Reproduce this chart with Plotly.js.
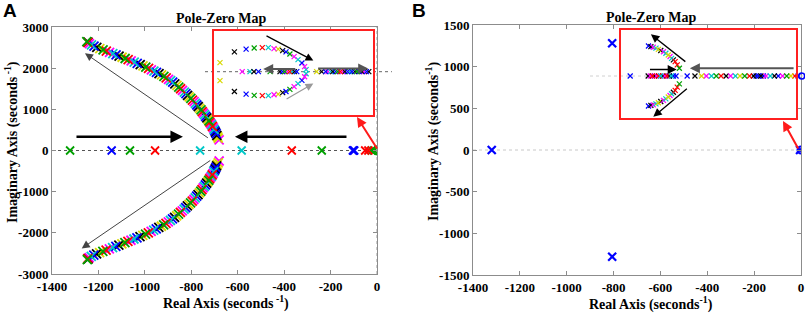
<!DOCTYPE html>
<html><head><meta charset="utf-8">
<script src="https://cdn.plot.ly/plotly-3.0.1.min.js"></script>
<style>html,body{margin:0;padding:0;background:#fff}</style>
</head><body><div id="chart" style="width:809px;height:315px"></div>
<script>
// ================= DATA =================
const xTickVals = [-1400,-1200,-1000,-800,-600,-400,-200,0];
const xTickText = ['-1400','-1200','-1000','-800','-600','-400','-200','0'];
const yTickValsA = [-3000,-2000,-1000,0,1000,2000,3000];
const yTickTextA = ['-3000','-2000','-1000','0','1000','2000','3000'];
const yTickValsB = [-1500,-1000,-500,0,500,1000,1500];
const yTickTextB = ['-1500','-1000','-500','0','500','1000','1500'];

// Panel A – upper complex branch of the root locus (series = gain case)
const aUpRe  = [-680,-684,-687,-690,-693,-696,-699,-702,-705,-709,-712,-716,-720,-724,-728,-733,-738,-743,-748,-753,-758,-764,-770,-776,-782,-788,-795,-802,-809,-816,-823,-830,-838,-846,-854,-862,-871,-880,-889,-898,-908,-918,-928,-939,-950,-961,-972,-984,-996,-1008,-1020,-1033,-1046,-1059,-1072,-1085,-1098,-1111,-1124,-1138,-1152,-1166,-1180,-1194,-1207,-1219,-1230,-1239,-1246,-1250,-1245];
const aUpIm  = [260,300,340,370,410,445,480,515,550,585,620,655,690,720,755,790,830,870,910,945,985,1025,1065,1105,1145,1185,1225,1265,1305,1340,1380,1420,1460,1500,1540,1580,1620,1660,1695,1730,1765,1800,1835,1865,1900,1930,1960,1995,2025,2055,2085,2115,2145,2175,2205,2235,2265,2295,2325,2355,2385,2415,2445,2475,2505,2535,2565,2595,2625,2645,2630];
const aUpSer = ['m','y','y','k','b','k','b','c','m','r','c','m','r','g','y','k','b','c','m','r','g','y','k','b','c','m','r','g','y','k','b','c','m','r','g','y','k','b','c','m','r','g','y','k','b','c','m','r','g','y','k','b','c','m','r','g','y','k','b','c','m','r','g','y','k','b','c','m','r','g','k'];
// Panel A – lower complex branch
const aLoRe  = [-680,-684,-688,-691,-694,-697,-700,-703,-706,-710,-713,-717,-721,-725,-729,-734,-739,-744,-749,-754,-759,-765,-771,-777,-783,-789,-796,-803,-810,-817,-824,-831,-839,-847,-855,-863,-872,-881,-890,-899,-909,-919,-929,-940,-951,-962,-973,-985,-997,-1009,-1021,-1034,-1047,-1060,-1073,-1086,-1099,-1112,-1125,-1139,-1153,-1167,-1181,-1195,-1208,-1220,-1231,-1240,-1246,-1248,-1244];
const aLoIm  = [-255,-300,-345,-375,-410,-445,-480,-515,-555,-590,-625,-655,-690,-725,-760,-795,-835,-870,-910,-950,-990,-1030,-1070,-1110,-1150,-1190,-1230,-1270,-1310,-1345,-1385,-1425,-1465,-1505,-1545,-1585,-1625,-1660,-1700,-1735,-1770,-1805,-1840,-1870,-1905,-1935,-1965,-2000,-2030,-2060,-2090,-2120,-2150,-2180,-2210,-2240,-2270,-2300,-2330,-2360,-2390,-2420,-2450,-2480,-2510,-2540,-2570,-2600,-2625,-2650,-2635];
const aLoSer = ['m','y','y','k','b','k','b','c','m','r','c','m','r','g','y','k','b','c','m','r','g','y','k','b','c','m','r','g','y','k','b','c','m','r','g','y','k','b','c','m','r','g','y','k','b','c','m','r','g','y','k','b','c','m','r','g','y','k','b','c','m','r','g','y','k','b','c','m','r','g','k'];
// Panel A – poles on the real axis
const aRealRe  = [-1322,-1143,-1064,-956,-762,-583,-367,-238,-104,-101,-98,-51,-37,-23,-12];
const aRealSer = ['g','b','g','r','c','c','r','g','b','b','b','r','r','g','g'];
// Panel A – zero
const aZeroRe = [0], aZeroIm = [0];

// Inset A (zoom near the origin, local units)
const iaUpRe  = [-51,-46.2,-42.3,-39.6,-36.9,-34.9,-33,-31.6,-30.1,-29,-27.7,-26.3,-25,-23.7,-22.8,-22.3];
const iaUpIm  = [3,6.6,7.5,7.9,8,8,7.7,7.5,7,6.6,5.9,5,4,2.9,1.7,0.7];
const iaUpSer = ['y','k','b','g','r','c','m','y','k','b','g','m','c','b','m','c'];
const iaLoRe  = [-51,-46.2,-42.3,-39.6,-36.9,-34.9,-33,-31.6,-30.1,-29,-27.7,-26.3,-25,-23.7,-22.8,-22.3];
const iaLoIm  = [-3,-6.6,-7.5,-7.9,-8,-8,-7.7,-7.5,-7,-6.6,-5.9,-5,-4,-2.9,-1.7,-0.7];
const iaLoSer = ['y','k','b','g','r','c','m','y','k','b','g','m','c','b','m','c'];
const iaRealRe  = [-43.6,-41,-39.7,-38.2,-34.3,-31,-30.2,-29.4,-28.6,-27.8,-27,-26.2,-25.4,-18.8,-17.1,-15.8,-15,-14.1,-13.4,-12.5,-11.8,-10.9,-10.2,-9.4,-8.5,-7.8,-7,-6.1,-5.4,-4.6,-3.7,-3,-2.2,-1.4];
const iaRealSer = ['m','c','k','b','g','k','b','g','m','r','c','k','b','y','k','b','m','c','k','b','g','r','m','k','b','c','b','k','g','b','k','m','b','k'];

// Panel B – poles and zero
const bPoleRe = [-1320,-806,-806,-4];
const bPoleIm = [0,1280,-1280,0];
const bZeroRe = [0], bZeroIm = [0];

// Inset B (zoom near the origin, local units)
const ibUpRe  = [-51.1,-50.3,-49.5,-48.6,-47.8,-47,-46.1,-45.3,-44.5,-43.9,-43.4,-42.8,-42.2,-41.5,-40.8];
const ibUpIm  = [10,9.8,9.6,9.3,8.9,8.5,8.1,7.6,7,6.5,5.9,5.4,4.8,3.7,2.6];
const ibUpSer = ['b','k','m','c','y','k','m','c','y','m','c','k','r','r','g'];
const ibLoRe  = [-51.1,-50.3,-49.5,-48.6,-47.8,-47,-46.1,-45.3,-44.5,-43.9,-43.4,-42.8,-42.2,-41.5,-40.8];
const ibLoIm  = [-10,-9.8,-9.6,-9.3,-8.9,-8.5,-8.1,-7.6,-7,-6.5,-5.9,-5.4,-4.8,-3.7,-2.6];
const ibLoSer = ['b','k','m','c','y','k','m','c','y','m','c','k','r','r','g'];
const ibRealRe  = [-57.2,-51.2,-50.5,-49.8,-49.1,-48.4,-47.7,-47,-46.3,-45.6,-44.9,-44.2,-43.5,-42.8,-41.9,-38.2,-35.6,-33.4,-31.8,-30.1,-28.5,-26.9,-25.2,-23.7,-22.1,-20.6,-19,-17.4,-16.1,-15.2,-14.4,-13.6,-12.8,-11.9,-10.5,-9.1,-7.8,-6.4,-5,-3.6,-2.3,-1.2];
const ibRealSer = ['b','k','m','r','k','m','r','c','k','m','r','k','c','b','b','b','k','y','m','c','g','r','k','m','c','y','g','r','k','b','b','k','b','m','c','k','b','m','g','y','r','b'];
const ibZeroRe = [0], ibZeroIm = [0];

// ================= STYLE / BUILD =================
const C = {g:'#00a000', b:'#0000ff', r:'#ff0000', c:'#00c8c8', m:'#ff00ff', y:'#d8d800', k:'#000000'};
const W = 809, H = 315;
const px = v => v / W;
const py = v => 1 - v / H;
const traces = [];

function line(xs, ys, xa, ya, color, dash, width) {
  traces.push({type:'scatter', mode:'lines', x:xs, y:ys, xaxis:xa, yaxis:ya,
    line:{color:color, dash:dash, width:width}, hoverinfo:'skip', showlegend:false});
}
function series(re, im, ser, xa, ya, size, lw) {
  const keys = [...new Set(ser)];
  keys.forEach(k => {
    const idx = ser.map((s,i) => s === k ? i : -1).filter(i => i >= 0);
    traces.push({type:'scatter', mode:'markers', x: idx.map(i => re[i]), y: idx.map(i => im[i]),
      xaxis:xa, yaxis:ya, hoverinfo:'skip', showlegend:false,
      marker:{symbol:'x-thin-open', size:size, color:C[k], line:{color:C[k], width:lw}}});
  });
}
function zero(re, im, xa, ya, color, size, lw) {
  traces.push({type:'scatter', mode:'markers', x:re, y:im, xaxis:xa, yaxis:ya, hoverinfo:'skip', showlegend:false,
    marker:{symbol:'circle-open', size:size, color:color, line:{color:color, width:lw}}});
}

// Panel A
line([-1400, 0], [0, 0], 'x', 'y', '#555', 'dot', 1);
line([0, 0], [-3000, 3000], 'x', 'y', '#999', 'dot', 1);
series(aUpRe, aUpIm, aUpSer, 'x', 'y', 9, 1.8);
series(aLoRe, aLoIm, aLoSer, 'x', 'y', 9, 1.8);
series(aRealRe, aRealRe.map(() => 0), aRealSer, 'x', 'y', 8, 1.8);
zero(aZeroRe, aZeroIm, 'x', 'y', C.g, 8, 2);

// Inset A
line([-56, 6.3], [0, 0], 'x3', 'y3', '#666', 'dot', 1);
series(iaUpRe, iaUpIm, iaUpSer, 'x3', 'y3', 5, 1.2);
series(iaLoRe, iaLoIm, iaLoSer, 'x3', 'y3', 5, 1.2);
series(iaRealRe, iaRealRe.map(() => 0), iaRealSer, 'x3', 'y3', 5, 1.2);

// Panel B
line([-1400, 0], [0, 0], 'x2', 'y2', '#c8c8c8', 'dot', 1);
series(bPoleRe, bPoleIm, bPoleRe.map(() => 'b'), 'x2', 'y2', 8, 2.2);
zero(bZeroRe, bZeroIm, 'x2', 'y2', C.b, 7, 2);

// Inset B
line([-70.6, 1.1], [0, 0], 'x4', 'y4', '#d0d0d0', 'dot', 1);
series(ibUpRe, ibUpIm, ibUpSer, 'x4', 'y4', 5, 1.2);
series(ibLoRe, ibLoIm, ibLoSer, 'x4', 'y4', 5, 1.2);
series(ibRealRe, ibRealRe.map(() => 0), ibRealSer, 'x4', 'y4', 5, 1.2);
zero(ibZeroRe, ibZeroIm, 'x4', 'y4', C.b, 6, 1.6);

const tickFont = {family:'Liberation Serif', size:13, color:'#000', weight:'bold'};
const axBase = {showline:true, mirror:'ticks', linecolor:'#8c8c8c', linewidth:1, ticks:'inside', ticklen:4,
  tickcolor:'#8c8c8c', tickfont:tickFont, showgrid:false, zeroline:false, tickmode:'array', fixedrange:true};
const hidden = {visible:false, showgrid:false, zeroline:false, fixedrange:true};

const titleFont = {family:'Liberation Serif', size:14, color:'#000'};
const ann = [];
function text(t, x, y, font, angle) {
  ann.push({text:t, x:px(x), y:py(y), xref:'paper', yref:'paper', showarrow:false, font:font,
    textangle:angle || 0, xanchor:'center', yanchor:'middle'});
}
text('<b>Pole-Zero Map</b>', 221, 18, titleFont);
text('<b>Pole-Zero Map</b>', 651, 17, titleFont);
text('<b>Real Axis (seconds<sup> -1</sup>)</b>', 226, 302, {family:'Liberation Serif', size:14, color:'#000'});
text('<b>Real Axis (seconds<sup>-1</sup>)</b>', 651, 303, {family:'Liberation Serif', size:14, color:'#000'});
text('<b>Imaginary Axis (seconds<sup> -1</sup>)</b>', 12, 142, {family:'Liberation Serif', size:14, color:'#000'}, -90);
text('<b>Imaginary Axis (seconds<sup>-1</sup>)</b>', 433, 142, {family:'Liberation Serif', size:14, color:'#000'}, -90);
text('<b>A</b>', 10, 11, {family:'Liberation Sans', size:19, color:'#000'});
text('<b>B</b>', 419, 10, {family:'Liberation Sans', size:19, color:'#000'});

function arrow(xa, ya, x0, y0, x1, y1, color, width, size) {
  ann.push({x:x1, y:y1, ax:x0, ay:y0, xref:xa, yref:ya, axref:xa, ayref:ya, text:'', showarrow:true,
    arrowhead:2, arrowsize:size, arrowwidth:width, arrowcolor:color, standoff:0, startstandoff:0});
}
// Panel A arrows
arrow('x', 'y', -1301, 331, -836, 331, '#000', 2.5, 1);
arrow('x', 'y', -125, 331, -612, 331, '#000', 2.5, 1);
arrow('x', 'y', -722, 283, -1258, 2364, '#444', 1, 1.6);
arrow('x', 'y', -712, -218, -1272, -2379, '#444', 1, 1.6);
// Inset A arrows
arrow('x3', 'y3', -36, 12.2, -19.9, 3.7, '#000', 1.2, 1.3);
arrow('x3', 'y3', -29.3, -9.4, -19.9, -3.9, '#999', 1.2, 1.3);
arrow('x3', 'y3', -25.4, 0.9, -36.6, 0.9, '#555', 2, 1);
arrow('x3', 'y3', -18.8, 1.1, -1.6, 1.1, '#555', 2, 1);
// Inset B arrows
arrow('x4', 'y4', -38.3, 4.4, -50.3, 13.9, '#000', 1.3, 1.3);
arrow('x4', 'y4', -37.8, -3.8, -49.5, -13.6, '#000', 1.3, 1.3);
arrow('x4', 'y4', -51.1, 2.2, -41.7, 2.2, '#000', 1.5, 1.2);
arrow('x4', 'y4', -2.2, 2.6, -37.3, 2.6, '#555', 2, 1);
// Red pointer arrows (paper coords, pixel offsets)
ann.push({x:px(357), y:py(117), xref:'paper', yref:'paper', ax:21, ay:33, text:'', showarrow:true,
  arrowhead:2, arrowsize:1, arrowwidth:2, arrowcolor:'#ff1a1a', standoff:0});
ann.push({x:px(783), y:py(121), xref:'paper', yref:'paper', ax:16, ay:29, text:'', showarrow:true,
  arrowhead:2, arrowsize:1, arrowwidth:2, arrowcolor:'#ff1a1a', standoff:0});

const layout = {
  width:W, height:H, margin:{l:0, r:0, t:0, b:0}, paper_bgcolor:'#fff', plot_bgcolor:'rgba(0,0,0,0)',
  showlegend:false, hovermode:false,
  xaxis: Object.assign({}, axBase, {domain:[px(52), px(377)], range:[-1400, 0], anchor:'y', tickvals:xTickVals, ticktext:xTickText}),
  yaxis: Object.assign({}, axBase, {domain:[py(274), py(27)], range:[-3000, 3000], anchor:'x', tickvals:yTickValsA, ticktext:yTickTextA}),
  xaxis2: Object.assign({}, axBase, {domain:[px(473), px(801)], range:[-1400, 0], anchor:'y2', tickvals:xTickVals, ticktext:xTickText}),
  yaxis2: Object.assign({}, axBase, {domain:[py(275), py(25)], range:[-1500, 1500], anchor:'x2', tickvals:yTickValsB, ticktext:yTickTextB}),
  xaxis3: Object.assign({}, hidden, {domain:[px(205), px(392)], range:[-56, 6.33], anchor:'y3'}),
  yaxis3: Object.assign({}, hidden, {domain:[py(116), py(30)], range:[-14.77, 13.9], anchor:'x3'}),
  xaxis4: Object.assign({}, hidden, {domain:[px(590), px(805)], range:[-70.6, 1.1], anchor:'y4'}),
  yaxis4: Object.assign({}, hidden, {domain:[py(119), py(29)], range:[-14.33, 15.67], anchor:'x4'}),
  shapes: [
    {type:'rect', xref:'paper', yref:'paper', x0:px(213), x1:px(374), y0:py(116), y1:py(30), line:{color:'#ff2020', width:2}},
    {type:'rect', xref:'paper', yref:'paper', x0:px(620), x1:px(797), y0:py(119), y1:py(29), line:{color:'#ff2020', width:2}}
  ],
  annotations: ann
};
Plotly.newPlot('chart', traces, layout, {staticPlot:true, displayModeBar:false});
</script>
</body></html>
